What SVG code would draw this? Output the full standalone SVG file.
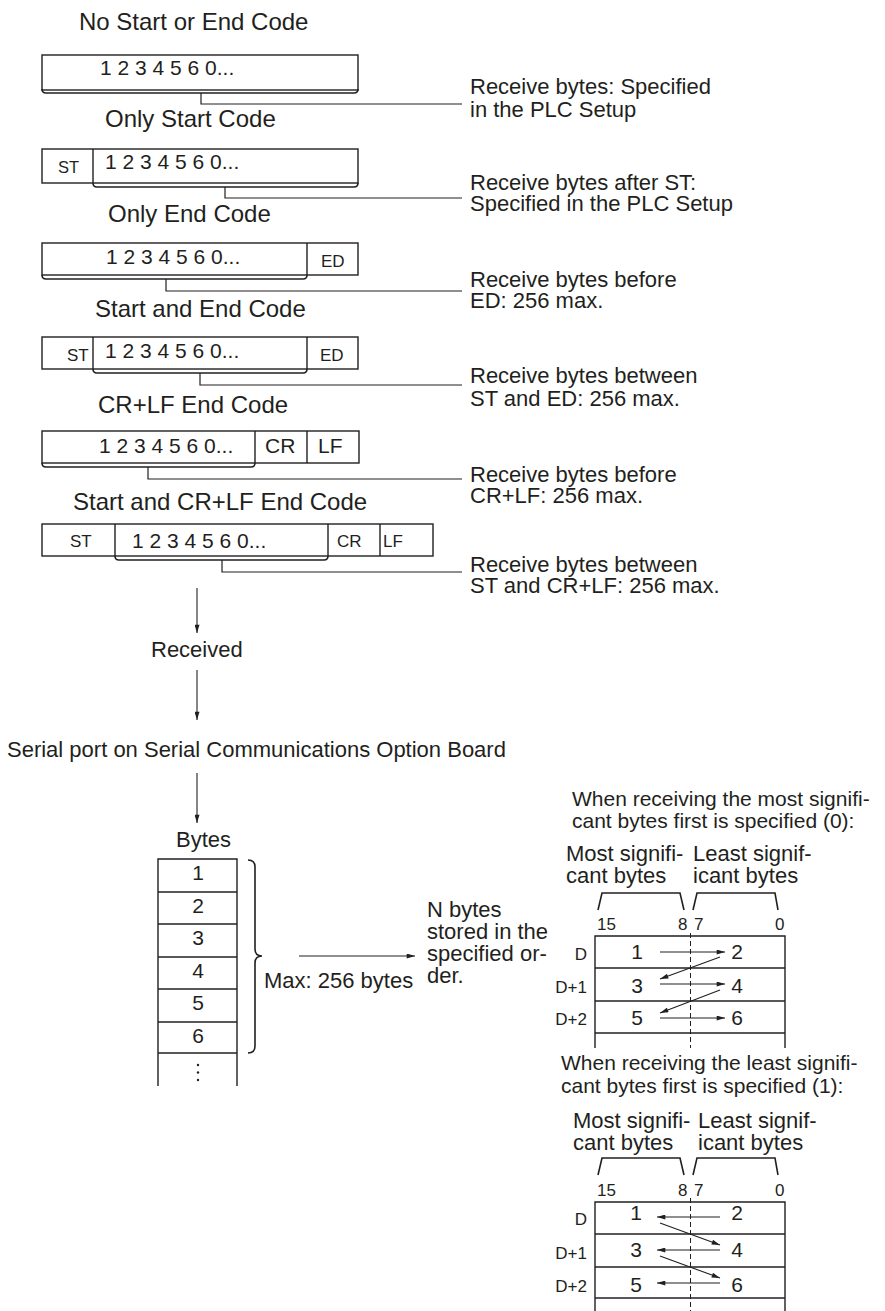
<svg xmlns="http://www.w3.org/2000/svg" width="885" height="1311" viewBox="0 0 885 1311">
<style>
text{font-family:"Liberation Sans",Arial,sans-serif;fill:#231f20}
.t{font-size:24px}
.b{font-size:22px}
.r{font-size:21px}
.d{font-size:21px}
.s{font-size:16.5px}
.m{font-size:17px}
.bx{fill:none;stroke:#231f20;stroke-width:1.4}
.ln{fill:none;stroke:#231f20;stroke-width:1.2}
.br{fill:none;stroke:#231f20;stroke-width:1.6}
.dash{fill:none;stroke:#231f20;stroke-width:1;stroke-dasharray:5,3}
.ar{fill:none;stroke:#231f20;stroke-width:1.1}
</style>
<defs>
<marker id="ah" viewBox="0 0 10 6" refX="10" refY="3" markerWidth="9" markerHeight="5" orient="auto" markerUnits="userSpaceOnUse">
<path d="M0,0 L10,3 L0,6 z" fill="#231f20"/>
</marker>
</defs>

<g id="frame-none">
<text class="t" x="79" y="30">No Start or End Code</text>
<rect class="bx" x="42" y="55" width="316" height="35"/>
<text class="d" x="100" y="75">1 2 3 4 5 6 0...</text>
<path class="br" d="M42,89 Q42,93 46,93 H354 Q358,93 358,89"/>
</g>

<g id="frame-start">
<text class="t" x="105" y="127">Only Start Code</text>
<rect class="bx" x="42" y="149" width="316" height="34"/>
<line class="bx" x1="93" y1="149" x2="93" y2="183"/>
<text class="s" x="58" y="173">ST</text>
<text class="d" x="105" y="169">1 2 3 4 5 6 0...</text>
<path class="br" d="M93,183 Q93,187 97,187 H354 Q358,187 358,183"/>
</g>

<g id="frame-end">
<text class="t" x="108" y="222">Only End Code</text>
<rect class="bx" x="42" y="243" width="316" height="32"/>
<line class="bx" x1="307" y1="243" x2="307" y2="275"/>
<text class="m" x="321" y="267">ED</text>
<text class="d" x="106" y="264">1 2 3 4 5 6 0...</text>
<path class="br" d="M42,275 Q42,279 46,279 H303 Q307,279 307,275"/>
</g>

<g id="frame-start-end">
<text class="t" x="95" y="317">Start and End Code</text>
<rect class="bx" x="42" y="337" width="316" height="32"/>
<line class="bx" x1="93" y1="337" x2="93" y2="369"/>
<line class="bx" x1="307" y1="337" x2="307" y2="369"/>
<text class="m" x="67" y="361">ST</text>
<text class="m" x="320" y="361">ED</text>
<text class="d" x="105" y="358">1 2 3 4 5 6 0...</text>
<path class="br" d="M93,369 Q93,373 97,373 H303 Q307,373 307,369"/>
</g>

<g id="frame-crlf">
<text class="t" x="98" y="413">CR+LF End Code</text>
<rect class="bx" x="42" y="431" width="317" height="32"/>
<line class="bx" x1="255" y1="431" x2="255" y2="463"/>
<line class="bx" x1="307" y1="431" x2="307" y2="463"/>
<text class="r" x="265" y="453">CR</text>
<text class="r" x="318" y="453">LF</text>
<text class="d" x="99" y="453">1 2 3 4 5 6 0...</text>
<path class="br" d="M42,463 Q42,467 46,467 H251 Q255,467 255,463"/>
</g>

<g id="frame-start-crlf">
<text class="t" x="73" y="510">Start and CR+LF End Code</text>
<rect class="bx" x="42" y="524" width="391" height="32"/>
<line class="bx" x1="115" y1="524" x2="115" y2="556"/>
<line class="bx" x1="328" y1="524" x2="328" y2="556"/>
<line class="bx" x1="380" y1="524" x2="380" y2="556"/>
<text class="m" x="70" y="547">ST</text>
<text class="m" x="337" y="547">CR</text>
<text class="m" x="383" y="547">LF</text>
<text class="d" x="132" y="548">1 2 3 4 5 6 0...</text>
<path class="br" d="M115,556 Q115,560 119,560 H324 Q328,560 328,556"/>
</g>

<g id="labels">
<text class="b" x="470" y="94">Receive bytes: Specified</text>
<text class="b" x="470" y="117">in the PLC Setup</text>
<text class="b" x="470" y="190">Receive bytes after ST:</text>
<text class="b" x="470" y="211">Specified in the PLC Setup</text>
<text class="b" x="470" y="287">Receive bytes before</text>
<text class="b" x="470" y="308">ED: 256 max.</text>
<text class="b" x="470" y="383">Receive bytes between</text>
<text class="b" x="470" y="406">ST and ED: 256 max.</text>
<text class="b" x="470" y="482">Receive bytes before</text>
<text class="b" x="470" y="503">CR+LF: 256 max.</text>
<text class="b" x="470" y="572">Receive bytes between</text>
<text class="b" x="470" y="593">ST and CR+LF: 256 max.</text>
</g>

<g id="flow">
<text class="b" x="151" y="657">Received</text>
<text class="b" x="7" y="757">Serial port on Serial Communications Option Board</text>
<text class="b" x="176" y="847">Bytes</text>
</g>

<g id="bytes-column">
<path class="bx" d="M158,1086 V859 H237 V1086"/>
<line class="bx" x1="158" y1="892" x2="237" y2="892"/>
<line class="bx" x1="158" y1="924" x2="237" y2="924"/>
<line class="bx" x1="158" y1="957" x2="237" y2="957"/>
<line class="bx" x1="158" y1="989" x2="237" y2="989"/>
<line class="bx" x1="158" y1="1022" x2="237" y2="1022"/>
<line class="bx" x1="158" y1="1053" x2="237" y2="1053"/>
<g class="d" text-anchor="middle">
<text class="d" x="198" y="880">1</text>
<text class="d" x="198" y="913">2</text>
<text class="d" x="198" y="945">3</text>
<text class="d" x="198" y="978">4</text>
<text class="d" x="198" y="1010">5</text>
<text class="d" x="198" y="1043">6</text>
</g>
<circle cx="198" cy="1065" r="1.2" fill="#231f20"/>
<circle cx="198" cy="1072.5" r="1.2" fill="#231f20"/>
<circle cx="198" cy="1080" r="1.2" fill="#231f20"/>
<path class="br" d="M248,860 Q255,860 255,867 V949 Q255,956 262,956 Q255,956 255,963 V1046 Q255,1053 248,1053"/>
<text class="b" x="264" y="988">Max: 256 bytes</text>
</g>

<g id="n-bytes">
<text class="b" x="427" y="917">N bytes</text>
<text class="b" x="427" y="939">stored in the</text>
<text class="b" x="427" y="961">specified or-</text>
<text class="b" x="427" y="983">der.</text>
</g>

<g id="table-msb">
<text class="r" x="572" y="806">When receiving the most signifi-</text>
<text class="r" x="572" y="828">cant bytes first is specified (0):</text>
<text class="b" x="566" y="861">Most signifi-</text>
<text class="b" x="566" y="883">cant bytes</text>
<text class="b" x="693" y="861">Least signif-</text>
<text class="b" x="693" y="883">icant bytes</text>
<path class="br" d="M598,910 L602,893 H680 L684,910"/>
<path class="br" d="M693,910 L697,893 H775 L778,910"/>
<text class="m" x="597" y="930">15</text>
<text class="m" x="678" y="930">8</text>
<text class="m" x="694" y="930">7</text>
<text class="m" x="775" y="930">0</text>
<path class="bx" d="M595,1048 V936 H785 V1048"/>
<line class="bx" x1="595" y1="968" x2="785" y2="968"/>
<line class="bx" x1="595" y1="1001" x2="785" y2="1001"/>
<line class="bx" x1="595" y1="1033" x2="785" y2="1033"/>
<line class="dash" x1="690.5" y1="933" x2="690.5" y2="1048"/>
<text class="m" x="587" y="960" text-anchor="end">D</text>
<text class="m" x="587" y="993" text-anchor="end">D+1</text>
<text class="m" x="587" y="1025" text-anchor="end">D+2</text>
<text class="d" x="637" y="959" text-anchor="middle">1</text>
<text class="d" x="737" y="959" text-anchor="middle">2</text>
<text class="d" x="637" y="993" text-anchor="middle">3</text>
<text class="d" x="737" y="993" text-anchor="middle">4</text>
<text class="d" x="637" y="1025" text-anchor="middle">5</text>
<text class="d" x="737" y="1025" text-anchor="middle">6</text>
</g>

<g id="table-lsb">
<text class="r" x="561" y="1070">When receiving the least signifi-</text>
<text class="r" x="561" y="1093">cant bytes first is specified (1):</text>
<text class="b" x="573" y="1128">Most signifi-</text>
<text class="b" x="573" y="1150">cant bytes</text>
<text class="b" x="698" y="1128">Least signif-</text>
<text class="b" x="698" y="1150">icant bytes</text>
<path class="br" d="M598,1175 L602,1158 H680 L684,1175"/>
<path class="br" d="M693,1175 L697,1158 H775 L778,1175"/>
<text class="m" x="597" y="1196">15</text>
<text class="m" x="678" y="1196">8</text>
<text class="m" x="694" y="1196">7</text>
<text class="m" x="775" y="1196">0</text>
<path class="bx" d="M595,1311 V1202 H785 V1311"/>
<line class="bx" x1="595" y1="1234" x2="785" y2="1234"/>
<line class="bx" x1="595" y1="1267" x2="785" y2="1267"/>
<line class="bx" x1="595" y1="1298" x2="785" y2="1298"/>
<line class="dash" x1="690.5" y1="1198" x2="690.5" y2="1311"/>
<text class="m" x="587" y="1225" text-anchor="end">D</text>
<text class="m" x="587" y="1259" text-anchor="end">D+1</text>
<text class="m" x="587" y="1292" text-anchor="end">D+2</text>
<text class="d" x="636" y="1220" text-anchor="middle">1</text>
<text class="d" x="737" y="1220" text-anchor="middle">2</text>
<text class="d" x="636" y="1257" text-anchor="middle">3</text>
<text class="d" x="737" y="1257" text-anchor="middle">4</text>
<text class="d" x="636" y="1292" text-anchor="middle">5</text>
<text class="d" x="737" y="1292" text-anchor="middle">6</text>
</g>

<g id="connectors">
<path class="ln" d="M201,93 V104 H462"/>
<path class="ln" d="M225,187 V198 H462"/>
<path class="ln" d="M166,279 V291 H462"/>
<path class="ln" d="M200,373 V385 H462"/>
<path class="ln" d="M148,467 V479 H462"/>
<path class="ln" d="M222,560 V572 H462"/>
<line class="ar" x1="197" y1="588" x2="197" y2="633" marker-end="url(#ah)"/>
<line class="ar" x1="197" y1="670" x2="197" y2="720" marker-end="url(#ah)"/>
<line class="ar" x1="197" y1="773" x2="197" y2="823" marker-end="url(#ah)"/>
<line class="ar" x1="299" y1="956" x2="415" y2="956" marker-end="url(#ah)"/>
<line class="ar" x1="660" y1="952" x2="725" y2="952" marker-end="url(#ah)"/>
<line class="ar" x1="720" y1="957" x2="660" y2="979" marker-end="url(#ah)"/>
<line class="ar" x1="660" y1="984" x2="725" y2="984" marker-end="url(#ah)"/>
<line class="ar" x1="720" y1="990" x2="660" y2="1013" marker-end="url(#ah)"/>
<line class="ar" x1="660" y1="1018" x2="725" y2="1018" marker-end="url(#ah)"/>
<line class="ar" x1="720" y1="1217" x2="657" y2="1217" marker-end="url(#ah)"/>
<line class="ar" x1="660" y1="1223" x2="720" y2="1245" marker-end="url(#ah)"/>
<line class="ar" x1="720" y1="1250" x2="657" y2="1250" marker-end="url(#ah)"/>
<line class="ar" x1="660" y1="1256" x2="720" y2="1278" marker-end="url(#ah)"/>
<line class="ar" x1="720" y1="1283" x2="657" y2="1283" marker-end="url(#ah)"/>
</g>
</svg>
